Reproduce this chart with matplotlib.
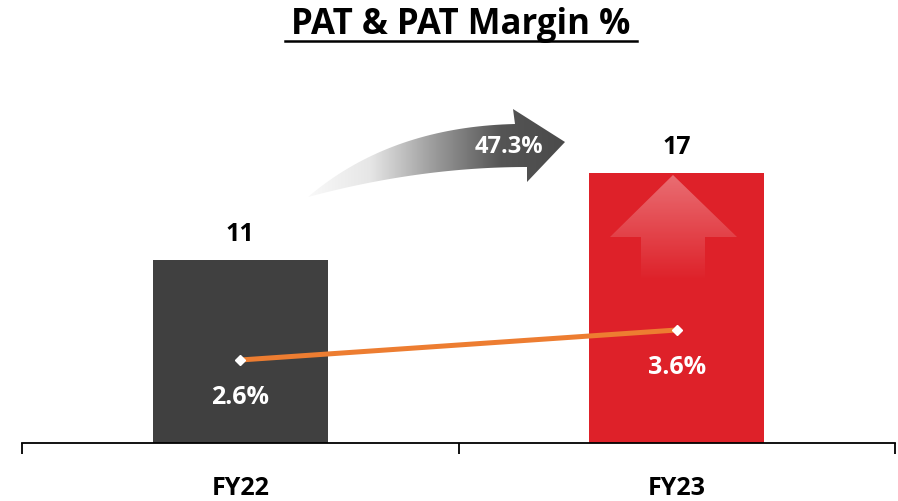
import numpy as np
import matplotlib
matplotlib.use("Agg")
import matplotlib.pyplot as plt
from matplotlib.path import Path
from matplotlib.patches import PathPatch
from matplotlib.colors import LinearSegmentedColormap

plt.rcParams['font.family'] = ['Open Sans', 'DejaVu Sans']

# ---- data ----
categories = ["FY22", "FY23"]
pat = [11.45, 16.87]
margin = [2.6, 3.6]
growth_label = "47.3%"
title = "PAT & PAT Margin %"

bar_colors = ["#404040", "#DE2129"]
line_color = "#ED7D31"

W, H = 898, 502
fig = plt.figure(figsize=(W / 100, H / 100), dpi=100)

def fx(px):
    return px / W

def fy(py):
    return 1 - py / H

ax_left, ax_right = 22, 895
ax_top, ax_bottom = 100, 444
ax = fig.add_axes([fx(ax_left), fy(ax_bottom), fx(ax_right - ax_left), (ax_bottom - ax_top) / H])

x = np.arange(len(categories))
bars = ax.bar(x, pat, width=0.40, color=bar_colors, zorder=2)
ax.set_xlim(-0.5, 1.5)
ax.set_ylim(0, 16.87 * 344 / 270)

for xi, v in zip(x, pat):
    ax.annotate(f"{v:.0f}", (xi, v), xytext=(0, 19), textcoords="offset points",
                ha="center", va="center", fontsize=18, fontweight="bold", color="black")

for s in ["top", "left", "right"]:
    ax.spines[s].set_visible(False)
ax.spines["bottom"].set_linewidth(1.3)
ax.spines["bottom"].set_color("black")
ax.set_yticks([])
ax.set_xticks([-0.5, 0.5, 1.5])
ax.set_xticklabels([])
ax.tick_params(axis="x", which="major", direction="out", length=8, width=1.3, color="black")
ax.set_xticks(x, minor=True)
ax.set_xticklabels(categories, minor=True, fontsize=18, fontweight="bold")
ax.tick_params(axis="x", which="minor", length=0, pad=23)

# secondary axis for margin
ax2 = ax.twinx()
ax2.set_ylim(2.6 - 83 / 30, 2.6 - 83 / 30 + 344 / 30)
ax2.plot(x, margin, color=line_color, lw=3.6, zorder=3, solid_capstyle="butt")
ax2.plot(x, margin, linestyle="none", marker="D", markersize=5, color="white", zorder=4)
for xi, m in zip(x, margin):
    ax2.annotate(f"{m:.1f}%", (xi, m), xytext=(0, -26), textcoords="offset points",
                 ha="center", va="center", fontsize=18, fontweight="bold", color="white")
ax2.set_yticks([])
for s in ["top", "left", "right", "bottom"]:
    ax2.spines[s].set_visible(False)

# ---- overlay for decorations (pixel coordinates) ----
ov = fig.add_axes([0, 0, 1, 1], zorder=5)
ov.set_xlim(0, W)
ov.set_ylim(H, 0)
ov.axis("off")
ov.patch.set_alpha(0)

# title with underline
ov.text(461, 25, title, ha="center", va="center", fontsize=25, fontweight="bold", color="black")
ov.plot([285, 637], [42, 42], color="black", lw=1.8)

# curved gradient arrow
def bez(p0, p1, p2, n=40):
    t = np.linspace(0, 1, n)[:, None]
    p0, p1, p2 = map(np.array, (p0, p1, p2))
    return (1 - t) ** 2 * p0 + 2 * (1 - t) * t * p1 + t ** 2 * p2

top_edge = bez((308, 198), (390, 128), (515, 125))
bot_edge = bez((527, 168), (420, 168), (308, 198))
head = np.array([(515, 125), (513, 110), (565, 143), (527, 183), (527, 168)])
verts = np.vstack([top_edge, head[1:4], bot_edge, top_edge[:1]])
codes = [Path.MOVETO] + [Path.LINETO] * (len(verts) - 2) + [Path.CLOSEPOLY]
arrow_path = Path(verts, codes)
patch = PathPatch(arrow_path, facecolor="none", edgecolor="none")
ov.add_patch(patch)
cmap = LinearSegmentedColormap.from_list("g", ["#fafafa", "#e6e6e6", "#9a9a9a", "#555555", "#4a4a4a"])
grad = np.linspace(0, 1, 256)[None, :]
im = ov.imshow(grad, extent=(305, 566, 200, 108), cmap=cmap, aspect="auto", zorder=6)
im.set_clip_path(patch)
ov.text(509, 147, growth_label, ha="center", va="center", fontsize=17,
        fontweight="bold", color="white", zorder=7)

# up arrow inside FY23 bar
up = np.array([(673, 176), (737, 238), (705, 238), (705, 282), (641, 282), (641, 238), (610, 238), (673, 176)])
up_path = Path(up, [Path.MOVETO] + [Path.LINETO] * 6 + [Path.CLOSEPOLY])
up_patch = PathPatch(up_path, facecolor="none", edgecolor="none")
ov.add_patch(up_patch)
rgba = np.ones((256, 1, 4))
rgba[:, 0, 3] = np.linspace(0.35, 0.0, 256)
im2 = ov.imshow(rgba, extent=(608, 739, 282, 175), aspect="auto", zorder=6)
im2.set_clip_path(up_patch)

ov.set_xlim(0, W)
ov.set_ylim(H, 0)

fig.savefig("out.png", dpi=100)
